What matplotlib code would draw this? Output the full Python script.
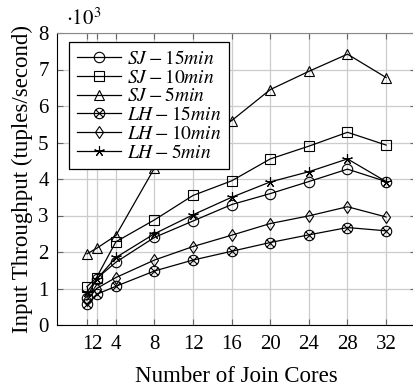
import matplotlib
matplotlib.use("Agg")
import matplotlib.pyplot as plt
from matplotlib.path import Path

plt.rcParams['font.family'] = ['Liberation Serif', 'DejaVu Serif']
plt.rcParams['mathtext.fontset'] = 'stix'

cores = [1, 2, 4, 8, 12, 16, 20, 24, 28, 32]
tick_labels = ["1", "2", "4", "8", "12", "16", "20", "24", "28", "32"]
sj15 = [0.75, 1.27, 1.72, 2.40, 2.85, 3.30, 3.60, 3.93, 4.27, 3.93]
sj10 = [1.05, 1.30, 2.28, 2.88, 3.55, 3.95, 4.55, 4.90, 5.28, 4.93]
sj5 = [1.95, 2.10, 2.45, 4.30, 5.00, 5.60, 6.45, 6.95, 7.42, 6.78]
lh15 = [0.57, 0.84, 1.06, 1.48, 1.78, 2.02, 2.26, 2.47, 2.67, 2.58]
lh10 = [0.68, 1.00, 1.30, 1.78, 2.15, 2.46, 2.78, 2.99, 3.24, 2.96]
lh5 = [0.90, 1.25, 1.85, 2.50, 3.02, 3.50, 3.92, 4.20, 4.55, 3.93]
labels = [r'$SJ-15min$', r'$SJ-10min$', r'$SJ-5min$',
          r'$LH-15min$', r'$LH-10min$', r'$LH-5min$']

circ = Path.unit_circle()
cross = Path([(-0.707, -0.707), (0.707, 0.707), (-0.707, 0.707), (0.707, -0.707)],
             [Path.MOVETO, Path.LINETO, Path.MOVETO, Path.LINETO])
otimes = Path.make_compound_path(circ, cross)

series = [sj15, sj10, sj5, lh15, lh10, lh5]
markers = ['o', 's', '^', otimes, 'd', (5, 2, 0)]
msizes = [7.5, 7.5, 7, 7.5, 6.5, 7.5]

fig = plt.figure(figsize=(4.14, 3.90), dpi=100)
ax = fig.add_axes([57/414, (390-325)/390, (416-57)/414, (325-33)/390])

for y, m, ms, lab in zip(series, markers, msizes, labels):
    ax.plot(cores, y, color='black', lw=0.9, marker=m, ms=ms,
            mfc='none', mec='black', mew=0.8, label=lab)

ax.set_xlim(-2.1, 35.1)
ax.set_ylim(0, 8)
ax.set_xticks(cores)
ax.set_xticklabels(tick_labels)
ax.set_yticks(range(0, 9))
ax.grid(True, color='#cccccc', lw=0.9)
ax.set_axisbelow(True)
ax.tick_params(direction='in', length=4, width=0.8, color='#666666',
               labelsize=15, top=True, right=True)
ax.tick_params(axis='x', pad=7)
ax.tick_params(axis='y', pad=6)
for s in ['top', 'right']:
    ax.spines[s].set_color('#888888')
ax.spines['left'].set_color('black')
ax.spines['bottom'].set_color('black')

ax.set_xlabel('Number of Join Cores', fontsize=16.5, labelpad=9)
ax.set_ylabel('Input Throughput (tuples/second)', fontsize=16.5, labelpad=4)
fig.text(66/414, 1 - 19/390, r'$\cdot 10^3$', fontsize=15, va='center', ha='left')

leg = ax.legend(loc='upper left', bbox_to_anchor=(12/359, 1 - 9/292), fontsize=14,
                frameon=True, fancybox=False, edgecolor='black', framealpha=1,
                handlelength=2.3, labelspacing=0.04, borderpad=0.4,
                handletextpad=0.3, borderaxespad=0)
leg.get_frame().set_linewidth(0.9)

fig.savefig('out.png', dpi=100)
